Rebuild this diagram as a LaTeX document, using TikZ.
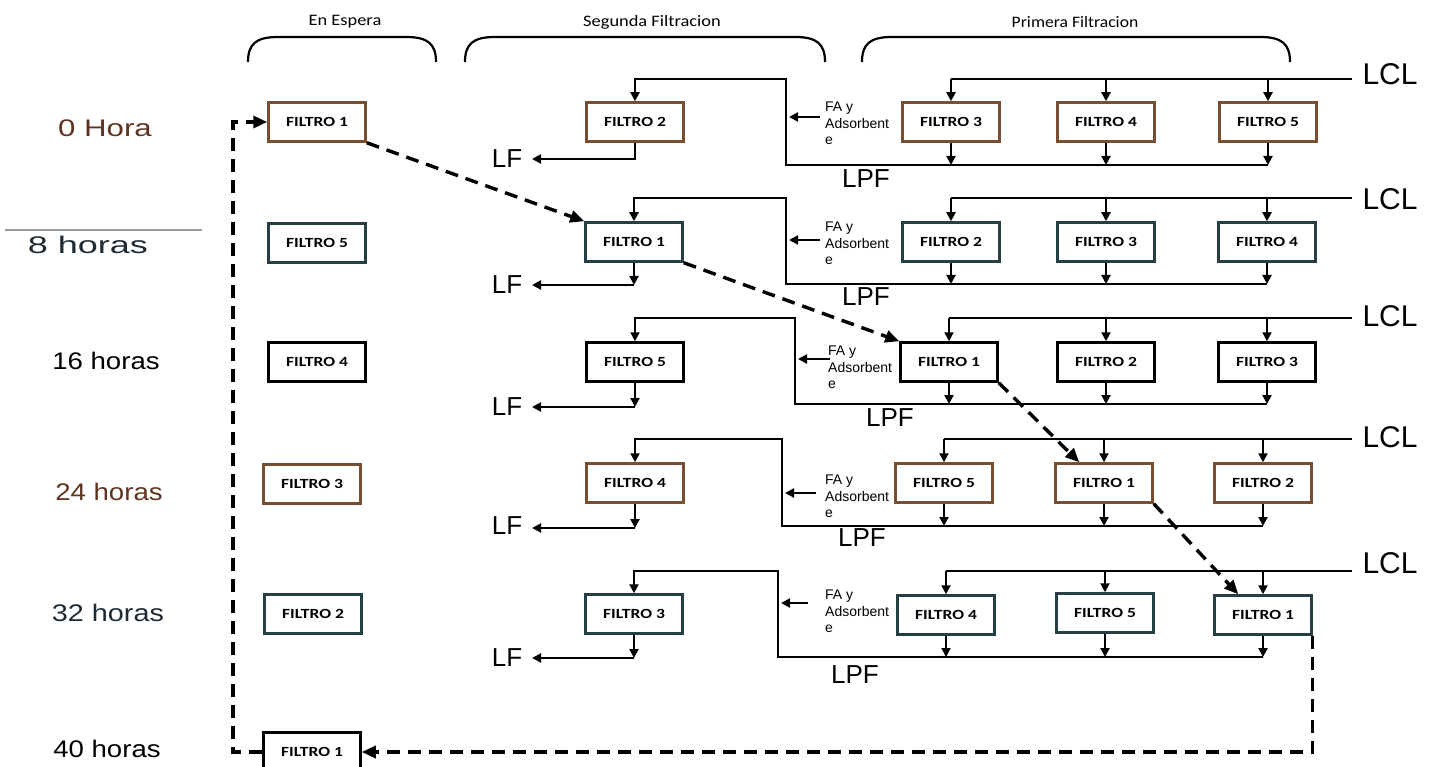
\documentclass[tikz,border=0pt]{standalone}
\usepackage{fontspec}
\usepackage{graphicx}
\setmainfont{Liberation Sans}
\newfontfamily\boxfont{Carlito}
\usetikzlibrary{arrows.meta}

\definecolor{brownbox}{RGB}{122,78,48}
\definecolor{slatebox}{RGB}{38,62,68}
\definecolor{browntext}{RGB}{92,52,32}
\definecolor{slatetext}{RGB}{30,42,52}

% filter label, set wide like the original box captions
\newcommand\ftxt[1]{\scalebox{1.25}[1]{FILTRO #1}}
\newcommand\wide[2]{\scalebox{#1}[1]{#2}}

\tikzset{
  filtro/.style={draw, line width=2.5pt, minimum width=97pt, minimum height=39pt,
    inner sep=0pt, fill=white, font=\boxfont\bfseries\fontsize{14}{15}\selectfont},
  pipe/.style={line width=2.1pt},
  flow/.style={line width=2.1pt, -{Triangle[length=9pt,width=9pt]}},
  move/.style={line width=3.4pt, dash pattern=on 13pt off 8pt, -{Triangle[length=14pt,width=12pt]}},
  brace/.style={line width=2.2pt},
  hora/.style={font=\fontsize{24}{26}\selectfont},
  header/.style={font=\boxfont\fontsize{16}{17}\selectfont},
  lcl/.style={font=\fontsize{30}{32}\selectfont},
  lf/.style={font=\fontsize{26}{28}\selectfont, inner sep=1pt},
  lpf/.style={font=\fontsize{26}{28}\selectfont},
  fatext/.style={font=\fontsize{14}{16.5}\selectfont, align=left, inner sep=0pt, anchor=north west},
}

\begin{document}
\begin{tikzpicture}[x=1pt,y=-1pt]
\path[use as bounding box] (0,0) rectangle (1429,767);
\clip (0,0) rectangle (1429,767);

% ---- column headers and their braces
\node[header] (hEsp) at (345,22) {\wide{1.15}{En Espera}};
\node[header] (hSeg) at (652,22) {\wide{1.15}{Segunda Filtracion}};
\node[header] (hPri) at (1075,22) {\wide{1.1}{Primera Filtracion}};
\foreach \a/\b in {248/436, 465/825, 862/1290}
  \draw[brace] (\a,62) .. controls (\a,44) and (\a+8,37) .. (\a+30,37)
     -- (\b-30,37) .. controls (\b-8,37) and (\b,44) .. (\b,62);

% ---- time labels
\node[hora, text=browntext] (t0) at (105,128) {\wide{1.3}{0 Hora}};
\draw[line width=1.6pt, black!40] (5,230) -- (202,230);
\node[hora, text=slatetext] (t8) at (88,245) {\wide{1.5}{8 horas}};
\node[hora] (t16) at (106,361) {\wide{1.15}{16 horas}};
\node[hora, text=browntext] (t24) at (109,492) {\wide{1.15}{24 horas}};
\node[hora, text=slatetext] (t32) at (108,613) {\wide{1.2}{32 horas}};
\node[hora] (t40) at (107,749) {\wide{1.15}{40 horas}};

% ================= 0 hora
\node[filtro, draw=brownbox] (w0) at (317,122) {\ftxt{1}};
\node[filtro, draw=brownbox] (s0) at (635,122) {\ftxt{2}};
\node[filtro, draw=brownbox] (p00) at (951,122) {\ftxt{3}};
\node[filtro, draw=brownbox] (p01) at (1106,122) {\ftxt{4}};
\node[filtro, draw=brownbox] (p02) at (1268,122) {\ftxt{5}};
\coordinate (lcl0) at (1352,79);
\coordinate (lpf0) at (786,165);
\coordinate (lf0) at (532,159);
\coordinate (fa0) at (820,117);
\node[lcl] (lclt0) at (1390,74) {LCL};
\node[lpf] (lpft0) at (866,179) {LPF};
\node[lf] (lft0) at (507,159) {LF};
\node[fatext] (fat0) at (825,102) {FA y\\Adsorbent\\e};
\draw[pipe] (lcl0) -- (p00.north |- lcl0);
\foreach \b in {p00,p01,p02} {
  \draw[flow] (\b.north |- lcl0) -- (\b.north);
  \draw[flow] (\b.south) -- (\b.south |- lpf0);
}
\draw[flow] (p02.south |- lpf0) -- (lpf0) |- (s0.north |- lcl0) -- (s0.north);
\draw[flow] (s0.south) |- (lf0);
\draw[flow, shorten >=3pt] (fa0) -- (lpf0 |- fa0);

% ================= 8 horas
\node[filtro, draw=slatebox] (w1) at (317,243) {\ftxt{5}};
\node[filtro, draw=slatebox] (s1) at (634,242) {\ftxt{1}};
\node[filtro, draw=slatebox] (p10) at (951,242) {\ftxt{2}};
\node[filtro, draw=slatebox] (p11) at (1106,242) {\ftxt{3}};
\node[filtro, draw=slatebox] (p12) at (1267,242) {\ftxt{4}};
\coordinate (lcl1) at (1352,198);
\coordinate (lpf1) at (786,284);
\coordinate (lf1) at (532,285);
\coordinate (fa1) at (820,240);
\node[lcl] (lclt1) at (1390,199) {LCL};
\node[lpf] (lpft1) at (866,297) {LPF};
\node[lf] (lft1) at (507,285) {LF};
\node[fatext] (fat1) at (825,222) {FA y\\Adsorbent\\e};
\draw[pipe] (lcl1) -- (p10.north |- lcl1);
\foreach \b in {p10,p11,p12} {
  \draw[flow] (\b.north |- lcl1) -- (\b.north);
  \draw[flow] (\b.south) -- (\b.south |- lpf1);
}
\draw[flow] (p12.south |- lpf1) -- (lpf1) |- (s1.north |- lcl1) -- (s1.north);
\draw[flow] (s1.south) -- (s1.south |- lf1);
\draw[flow] (s1.south |- lf1) -- (lf1);
\draw[flow, shorten >=3pt] (fa1) -- (lpf1 |- fa1);

% ================= 16 horas
\node[filtro] (w2) at (317,362) {\ftxt{4}};
\node[filtro] (s2) at (635,362) {\ftxt{5}};
\node[filtro] (p20) at (949,362) {\ftxt{1}};
\node[filtro] (p21) at (1106,362) {\ftxt{2}};
\node[filtro] (p22) at (1267,362) {\ftxt{3}};
\coordinate (lcl2) at (1352,318);
\coordinate (lpf2) at (795,404);
\coordinate (lf2) at (532,407);
\coordinate (fa2) at (830,359);
\node[lcl] (lclt2) at (1390,316) {LCL};
\node[lpf] (lpft2) at (890,418) {LPF};
\node[lf] (lft2) at (507,407) {LF};
\node[fatext] (fat2) at (828,346) {FA y\\Adsorbent\\e};
\draw[pipe] (lcl2) -- (p20.north |- lcl2);
\foreach \b in {p20,p21,p22} {
  \draw[flow] (\b.north |- lcl2) -- (\b.north);
  \draw[flow] (\b.south) -- (\b.south |- lpf2);
}
\draw[flow] (p22.south |- lpf2) -- (lpf2) |- (s2.north |- lcl2) -- (s2.north);
\draw[flow] (s2.south) -- (s2.south |- lf2);
\draw[flow] (s2.south |- lf2) -- (lf2);
\draw[flow, shorten >=3pt] (fa2) -- (lpf2 |- fa2);

% ================= 24 horas
\node[filtro, draw=brownbox] (w3) at (312,484) {\ftxt{3}};
\node[filtro, draw=brownbox] (s3) at (635,483) {\ftxt{4}};
\node[filtro, draw=brownbox] (p30) at (944,483) {\ftxt{5}};
\node[filtro, draw=brownbox] (p31) at (1104,483) {\ftxt{1}};
\node[filtro, draw=brownbox] (p32) at (1263,483) {\ftxt{2}};
\coordinate (lcl3) at (1352,439);
\coordinate (lpf3) at (782,526);
\coordinate (lf3) at (532,528);
\coordinate (fa3) at (816,493);
\node[lcl] (lclt3) at (1390,437) {LCL};
\node[lpf] (lpft3) at (862,538) {LPF};
\node[lf] (lft3) at (507,526) {LF};
\node[fatext] (fat3) at (825,475) {FA y\\Adsorbent\\e};
\draw[pipe] (lcl3) -- (p30.north |- lcl3);
\foreach \b in {p30,p31,p32} {
  \draw[flow] (\b.north |- lcl3) -- (\b.north);
  \draw[flow] (\b.south) -- (\b.south |- lpf3);
}
\draw[flow] (p32.south |- lpf3) -- (lpf3) |- (s3.north |- lcl3) -- (s3.north);
\draw[flow] (s3.south) -- (s3.south |- lf3);
\draw[flow] (s3.south |- lf3) -- (lf3);
\draw[flow, shorten >=3pt] (fa3) -- (lpf3 |- fa3);

% ================= 32 horas
\node[filtro, draw=slatebox] (w4) at (313,614) {\ftxt{2}};
\node[filtro, draw=slatebox] (s4) at (634,614) {\ftxt{3}};
\node[filtro, draw=slatebox] (p40) at (946,615) {\ftxt{4}};
\node[filtro, draw=slatebox] (p41) at (1105,613) {\ftxt{5}};
\node[filtro, draw=slatebox] (p42) at (1263,615) {\ftxt{1}};
\coordinate (lcl4) at (1352,571);
\coordinate (lpf4) at (778,657);
\coordinate (lf4) at (532,658);
\coordinate (fa4) at (808,603);
\node[lcl] (lclt4) at (1390,563) {LCL};
\node[lpf] (lpft4) at (855,675) {LPF};
\node[lf] (lft4) at (507,658) {LF};
\node[fatext] (fat4) at (825,590) {FA y\\Adsorbent\\e};
\draw[pipe] (lcl4) -- (p40.north |- lcl4);
\foreach \b in {p40,p41,p42} {
  \draw[flow] (\b.north |- lcl4) -- (\b.north);
  \draw[flow] (\b.south) -- (\b.south |- lpf4);
}
\draw[flow] (p42.south |- lpf4) -- (lpf4) |- (s4.north |- lcl4) -- (s4.north);
\draw[flow] (s4.south) -- (s4.south |- lf4);
\draw[flow] (s4.south |- lf4) -- (lf4);
\draw[flow, shorten >=3pt] (fa4) -- (lpf4 |- fa4);

% ================= 40 horas
\node[filtro] (w5) at (312,752) {\ftxt{1}};

% ---- path followed by FILTRO 1 through the cycle
\coordinate (ret) at (233,0);
\draw[move] (w0.south east) -- (s1.north west);
\draw[move] (s1.south east) -- (p20.north west);
\draw[move] (p20.south east) -- ([xshift=25pt]p31.north west);
\draw[move] (p31.south east) -- ([xshift=25pt]p42.north west);
\draw[move] (p42.south east) -- (p42.south east |- w5.east) -- (w5.east);
\draw[move] (w5.west) -- (w5.west -| ret) -- (ret |- w0.west) -- (w0.west);
\end{tikzpicture}
\end{document}
